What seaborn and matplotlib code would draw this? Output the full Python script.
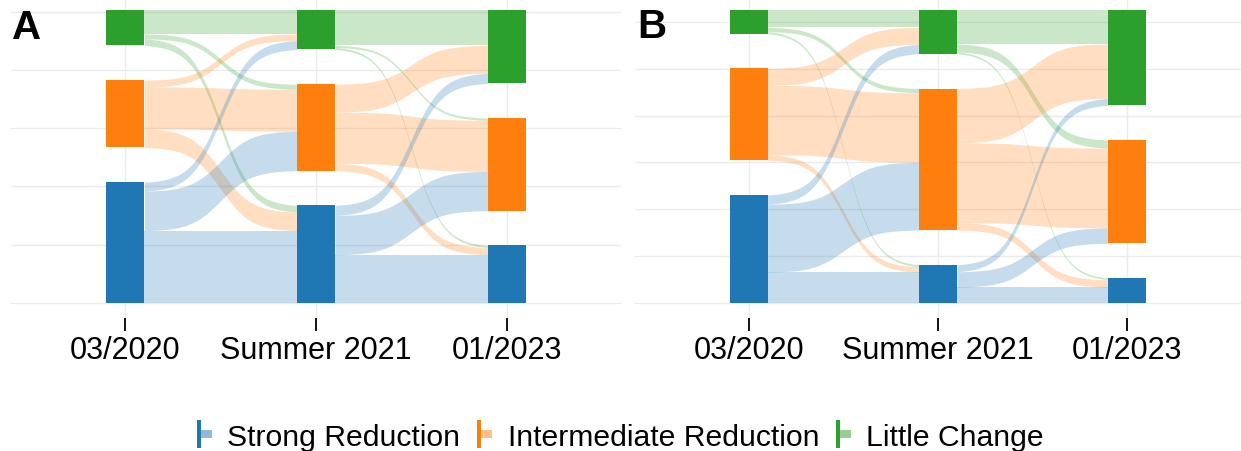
import numpy as np
import matplotlib
matplotlib.use("Agg")
import matplotlib.pyplot as plt
import matplotlib.patches as mpatches
from matplotlib.legend_handler import HandlerBase
import seaborn as sns

# time points and response groups (stacked top -> bottom)
stages = ["03/2020", "Summer 2021", "01/2023"]
groups = ["Little Change", "Intermediate Reduction", "Strong Reduction"]
legend_order = ["Strong Reduction", "Intermediate Reduction", "Little Change"]

# transitions in % of respondents
# rows = from (Little, Intermediate, Strong), cols = to (Little, Intermediate, Strong)
a_flow_1 = [[10.6, 2.2, 3.0], [3.0, 18.8, 8.3], [4.0, 17.7, 32.3]]
a_flow_2 = [[15.8, 0.9, 0.9], [12.5, 22.9, 3.3], [4.5, 17.6, 21.5]]
b_flow_1 = [[7.7, 1.9, 0.9], [7.6, 31.1, 2.4], [4.2, 30.4, 13.7]]
b_flow_2 = [[15.1, 3.6, 0.8], [24.4, 35.7, 3.3], [3.1, 6.9, 7.0]]

# hidden y breaks (only the grid lines show)
a_grid = [0, 26.1, 52.2, 78.3, 104.4, 130.5]
b_grid = [0, 21, 42, 63, 84, 105, 126]

GAP = 15.6
WIDTH = 0.2
SMOOTH = 5

pal = sns.color_palette("tab10")
colors = {"Strong Reduction": pal[0], "Intermediate Reduction": pal[1], "Little Change": pal[2]}


def sigmoid(x0, x1, y0, y1, n=200):
    t = np.linspace(-SMOOTH, SMOOTH, n)
    s = 1 / (1 + np.exp(-t))
    s = (s - s[0]) / (s[-1] - s[0])
    return np.linspace(x0, x1, n), y0 + s * (y1 - y0)


def node_tops(sizes, top):
    tops, y = [], top
    for s in sizes:
        tops.append(y)
        y -= s + GAP
    return tops


def draw_alluvial(ax, flows, grid):
    flows = [np.array(f) for f in flows]
    sizes = [flows[0].sum(axis=1)] + [f.sum(axis=0) for f in flows]
    top = 100 + 2 * GAP
    tops = [node_tops(s, top) for s in sizes]

    for c, f in enumerate(flows):
        x0, x1 = c + 1 + WIDTH / 2, c + 2 - WIDTH / 2
        for i in range(3):
            for j in range(3):
                h = f[i, j]
                ys = tops[c][i] - f[i, :j].sum()
                yd = tops[c + 1][j] - f[:i, j].sum()
                xx, yu = sigmoid(x0, x1, ys, yd)
                ax.fill_between(xx, yu, yu - h, color=colors[groups[i]],
                                alpha=0.25, linewidth=0, zorder=2)

    for c, s in enumerate(sizes):
        for i in range(3):
            ax.bar(c + 1, s[i], width=WIDTH, bottom=tops[c][i] - s[i],
                   color=colors[groups[i]], linewidth=0, zorder=3)

    ax.set_xlim(0.4, 3.6)
    ax.set_ylim(-6.72, 136.2)
    ax.set_xticks([1, 2, 3])
    ax.set_xticklabels(stages)
    ax.set_yticks(grid)
    ax.set_yticklabels([])
    ax.grid(True, color="#EBEBEB", linewidth=1.0)
    ax.set_axisbelow(True)
    for sp in ax.spines.values():
        sp.set_visible(False)
    ax.tick_params(axis="x", bottom=True, length=9.5, width=1.3, color="black",
                   pad=3, labelsize=22, labelcolor="black")
    ax.tick_params(axis="y", left=False, length=0)


sns.set_style("whitegrid")
plt.rcParams["font.family"] = ["Liberation Sans", "DejaVu Sans"]
plt.rcParams["text.color"] = "black"

W, H = 1241, 452
fig = plt.figure(figsize=(W / 100, H / 100), dpi=100)
ax_a = fig.add_axes([11 / W, 1 - 319 / H, (621 - 11) / W, 319 / H])
ax_b = fig.add_axes([635 / W, 1 - 319 / H, (1241 - 635) / W, 319 / H])

draw_alluvial(ax_a, [a_flow_1, a_flow_2], a_grid)
draw_alluvial(ax_b, [b_flow_1, b_flow_2], b_grid)

fig.text(12 / W, 1 - 39 / H, "A", fontsize=29, fontweight="bold", va="baseline", color="black")
fig.text(637 / W, 1 - 38 / H, "B", fontsize=29, fontweight="bold", va="baseline", color="black")


class KeyHandler(HandlerBase):
    def create_artists(self, legend, orig_handle, xdescent, ydescent,
                       width, height, fontsize, trans):
        col = orig_handle.get_facecolor()
        cy = height / 2 - ydescent
        x = -xdescent
        bar = mpatches.Rectangle((x, cy - 10.1), 2.9, 20.2, facecolor=col[:3],
                                 edgecolor="none", transform=trans)
        light = mpatches.Rectangle((x + 2.9, cy - 2.9), 7.9, 5.8,
                                   facecolor=col[:3], alpha=0.5,
                                   edgecolor="none", transform=trans)
        return [bar, light]


handles = [mpatches.Rectangle((0, 0), 1, 1, facecolor=colors[g]) for g in legend_order]
leg = fig.legend(handles, legend_order, loc="center", bbox_to_anchor=(0.5, 14 / H),
                 ncol=3, frameon=False, fontsize=21.7, handlelength=0.49,
                 handletextpad=0.52, columnspacing=0.56,
                 handler_map={mpatches.Rectangle: KeyHandler()})
for t in leg.get_texts():
    t.set_color("black")

fig.savefig("out.png", dpi=100)
